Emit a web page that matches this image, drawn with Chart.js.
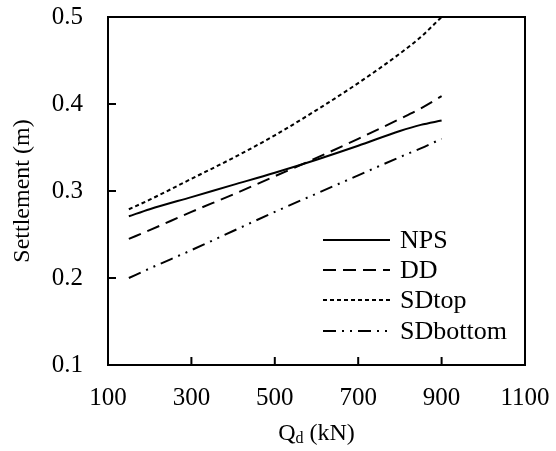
<!DOCTYPE html>
<html>
<head>
<meta charset="utf-8">
<script src="https://cdn.jsdelivr.net/npm/chart.js@4.4.1/dist/chart.umd.min.js"></script>
<style>
  html, body { margin: 0; padding: 0; background: #fff; }
  #wrap { width: 556px; height: 451px; }
</style>
</head>
<body>
<div id="wrap"><canvas id="settle"></canvas></div>
<script>
var qd = [150, 200, 300, 400, 500, 600, 700, 800, 850, 900];
var nps = [0.271, 0.279, 0.293, 0.307, 0.321, 0.336, 0.352, 0.369, 0.376, 0.381];
var dd = [0.245, 0.255, 0.276, 0.296, 0.317, 0.338, 0.360, 0.383, 0.395, 0.409];
var sdTop = [0.279, 0.290, 0.314, 0.338, 0.364, 0.393, 0.424, 0.458, 0.477, 0.500];
var sdBottom = [0.200, 0.211, 0.232, 0.254, 0.276, 0.297, 0.318, 0.339, 0.349, 0.360];
var xTicks = [100, 300, 500, 700, 900, 1100];
var yTicks = [0.1, 0.2, 0.3, 0.4, 0.5];

var FONT = '"Liberation Serif", "Times New Roman", serif';

function pts(ys) {
  var out = [];
  for (var i = 0; i < qd.length; i++) out.push({x: qd[i], y: ys[i]});
  return out;
}

function series(label, ys, dash) {
  return {
    label: label,
    data: pts(ys),
    borderColor: '#000',
    borderWidth: 2,
    borderDash: dash,
    pointRadius: 0,
    fill: false,
    cubicInterpolationMode: 'monotone'
  };
}

// box, inward tick marks, legend and the subscripted x title
var decor = {
  id: 'decor',
  afterDraw: function(chart) {
    var ctx = chart.ctx, a = chart.chartArea;
    var xs = chart.scales.x, ys = chart.scales.y;
    ctx.save();
    ctx.strokeStyle = '#000';
    ctx.lineWidth = 2;
    ctx.setLineDash([]);
    ctx.strokeRect(a.left, a.top, a.right - a.left, a.bottom - a.top);
    ctx.beginPath();
    xTicks.slice(1, -1).forEach(function(v) {
      var px = xs.getPixelForValue(v);
      ctx.moveTo(px, a.bottom);
      ctx.lineTo(px, a.bottom - 8);
    });
    yTicks.slice(1, -1).forEach(function(v) {
      var py = ys.getPixelForValue(v);
      ctx.moveTo(a.left, py);
      ctx.lineTo(a.left + 8, py);
    });
    ctx.stroke();

    // legend
    var rows = [125, 95, 65, 34];
    ctx.font = '26px ' + FONT;
    ctx.fillStyle = '#000';
    ctx.textBaseline = 'middle';
    ctx.textAlign = 'left';
    chart.data.datasets.forEach(function(ds, i) {
      var y = a.bottom - rows[i];
      ctx.beginPath();
      ctx.setLineDash(ds.borderDash || []);
      ctx.lineWidth = 2;
      ctx.moveTo(a.right - 202, y);
      ctx.lineTo(a.right - 135, y);
      ctx.stroke();
      ctx.fillText(ds.label, a.right - 125, y + 1);
    });
    ctx.setLineDash([]);

    // x axis title: Q with subscript d
    var big = '24px ' + FONT, small = '16px ' + FONT;
    ctx.textBaseline = 'alphabetic';
    ctx.font = big; var wQ = ctx.measureText('Q').width;
    var wR = ctx.measureText(' (kN)').width;
    ctx.font = small; var wd = ctx.measureText('d').width;
    var x0 = (a.left + a.right) / 2 - (wQ + wd + wR) / 2;
    var base = 440;
    ctx.font = big; ctx.fillText('Q', x0, base);
    ctx.font = small; ctx.fillText('d', x0 + wQ, base + 3);
    ctx.font = big; ctx.fillText(' (kN)', x0 + wQ + wd, base);
    ctx.restore();
  }
};

var ctx = document.getElementById('settle').getContext('2d');
var chart = new Chart(ctx, {
  type: 'line',
  data: {
    datasets: [
      series('NPS', nps, []),
      series('DD', dd, [13, 7]),
      series('SDtop', sdTop, [4, 3]),
      series('SDbottom', sdBottom, [13, 6, 2, 6, 2, 6])
    ]
  },
  options: {
    responsive: true,
    maintainAspectRatio: false,
    animation: false,
    layout: { padding: { top: 17, right: 31, left: 0, bottom: 0 } },
    plugins: {
      legend: { display: false },
      tooltip: { enabled: false }
    },
    scales: {
      x: {
        type: 'linear',
        min: 100,
        max: 1100,
        afterBuildTicks: function(s) { s.ticks = xTicks.map(function(v) { return {value: v}; }); },
        afterFit: function(s) {
          s.height = 86;
          s.paddingLeft = 0; s.paddingRight = 0;
        },
        grid: { display: false, drawTicks: false },
        border: { display: false },
        ticks: {
          color: '#000',
          padding: 18,
          maxRotation: 0,
          font: { family: FONT, size: 25 },
          callback: function(v) { return String(v); }
        }
      },
      y: {
        min: 0.1,
        max: 0.5,
        afterBuildTicks: function(s) { s.ticks = yTicks.map(function(v) { return {value: v}; }); },
        afterFit: function(s) {
          s.width = 108;
          s.paddingTop = 0; s.paddingBottom = 0;
        },
        grid: { display: false, drawTicks: false },
        border: { display: false },
        ticks: {
          color: '#000',
          padding: 25,
          font: { family: FONT, size: 25 },
          callback: function(v) { return v.toFixed(1); }
        },
        title: {
          display: true,
          text: 'Settlement (m)',
          color: '#000',
          padding: { top: 8, bottom: 0 },
          font: { family: FONT, size: 24 }
        }
      }
    }
  },
  plugins: [decor]
});
</script>
</body>
</html>
